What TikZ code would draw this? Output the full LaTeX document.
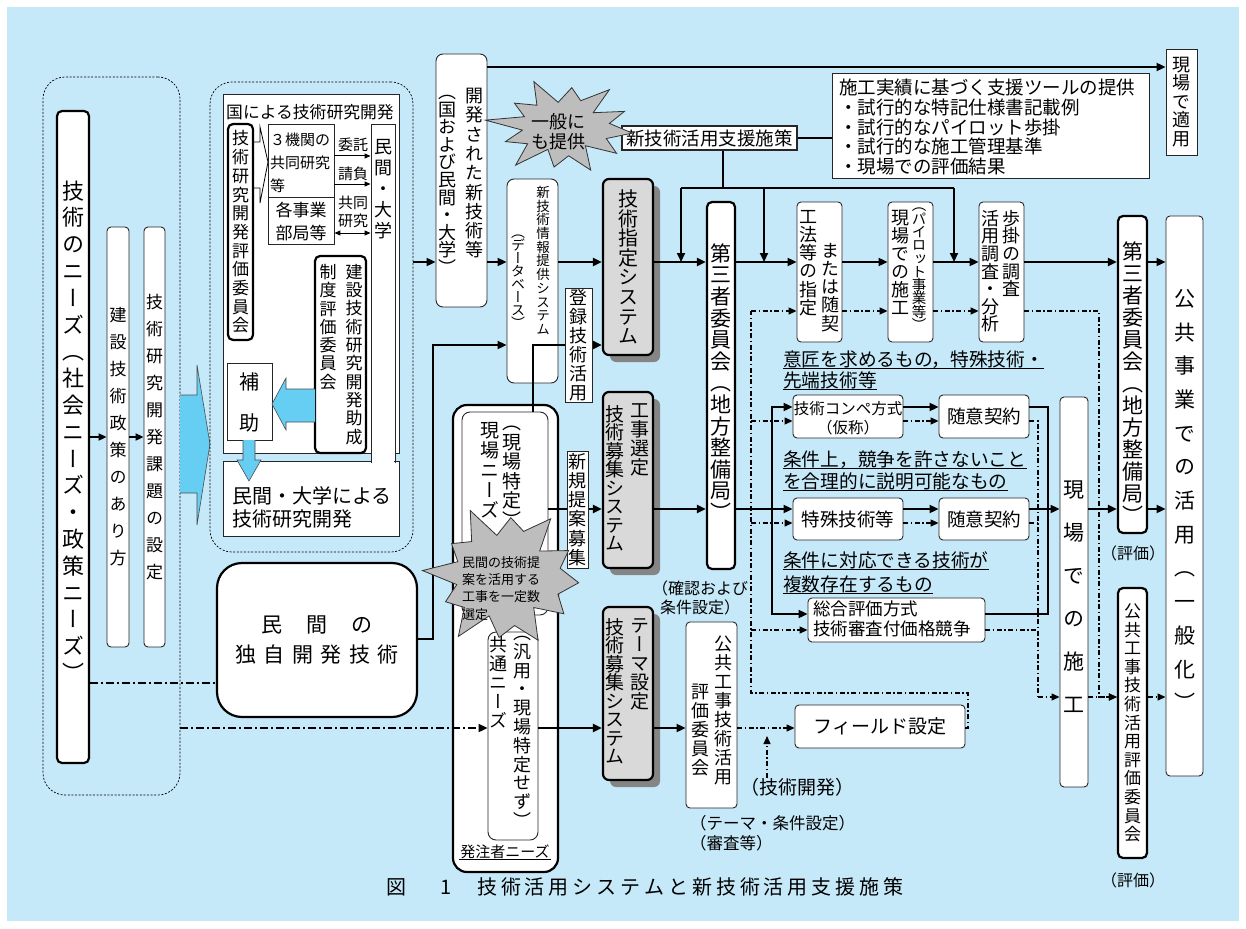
\documentclass[tikz,border=0pt]{standalone}
\usepackage{fontspec}
\setmainfont{Noto Sans CJK JP}
\newfontfamily\vjp[RawFeature={+vert}]{Noto Sans CJK JP}
\usetikzlibrary{arrows.meta,shadows}
\definecolor{bgc}{HTML}{C6E9F9}
\definecolor{cyc}{HTML}{66CDF3}
\definecolor{gboxc}{HTML}{D9D9D9}
\definecolor{shdc}{HTML}{858585}
\definecolor{burstc}{HTML}{BDBDBD}
\makeatletter
\newcommand\vt[2]{\vtop{\baselineskip=#1\lineskiplimit=-100pt\lineskip=0pt\@tfor\vt@c:=#2\do{\hbox to 1em{\hss\vt@c\hss}}}}
\newcommand\hc[2]{\@tfor\hc@c:=#2\do{\hbox to #1{\hss\hc@c\hss}}}
\makeatother
\newcommand\fs[1]{\fontsize{#1}{#1}\selectfont}
\newcommand\fsl[2]{\fontsize{#1}{#2}\selectfont}
\newcommand\bx[6][]{\node[#1, minimum width={#5-#3}, minimum height={#6-#4}] (#2) at ({(#3+#5)/2},{(#4+#6)/2}) {};}
\newcommand\burst[7]{\filldraw[fill=burstc, draw=black!80, line width=0.8pt] plot[samples at={0,...,#5}, variable=\k] ({#1+((1+#6)/2+(1-#6)/2*cos(180*\k))*(1+0.12*sin(\k*97))*#3*cos(\k*360/(#5+1)+#7)}, {#2+((1+#6)/2+(1-#6)/2*cos(180*\k))*(1+0.12*sin(\k*97))*#4*sin(\k*360/(#5+1)+#7)}) -- cycle;}
\begin{document}
\begin{tikzpicture}[x=1pt,y=-1pt,
 thinbox/.style={draw=black!85, line width=0.9pt, fill=white, rounded corners=4pt, inner sep=0pt},
 thickbox/.style={draw=black, line width=2.2pt, fill=white, rounded corners=5pt, inner sep=0pt},
 sqbox/.style={draw=black!85, line width=0.9pt, fill=white, inner sep=0pt},
 graybox/.style={draw=black, line width=2.2pt, fill=gboxc, rounded corners=6pt, inner sep=0pt, drop shadow={shadow xshift=7pt, shadow yshift=-7pt, fill=shdc, opacity=1}},
 dotbox/.style={draw=black, line width=0.7pt, dash pattern=on 2pt off 1.6pt, rounded corners=22pt, inner sep=0pt},
 vtxt/.style={inner sep=0pt, font=\vjp},
 txt/.style={inner sep=0pt},
 conn/.style={line width=2pt, -{Triangle[length=9pt,width=8pt]}},
 sconn/.style={line width=1pt, -{Triangle[length=6pt,width=5pt]}},
 lin/.style={line width=2pt},
 dd/.style={line width=1.3pt, dash pattern=on 5pt off 2.5pt on 1.5pt off 2.5pt},
 ddarr/.style={dd, -{Triangle[length=8pt,width=7pt]}},
 bigdd/.style={line width=2pt, dash pattern=on 8pt off 3pt on 2pt off 3pt},
]
\useasboundingbox (0,0) rectangle (1246,928);
\fill[white] (0,0) rectangle (1246,928);
\fill[bgc] (7,7) rectangle (1239,921);

% ---------- left group ----------
\bx[dotbox]{grp1}{43}{77}{180}{795}
\bx[thickbox]{needs}{57}{111}{89}{763}
\bx[thinbox]{policy}{107}{227}{129}{647}
\bx[thinbox]{task}{144}{227}{165}{647}
\node[vtxt] (tneeds) at ([yshift=6pt]needs.center) {\fs{22}\vt{26.8pt}{技術のニーズ（社会ニーズ・政策ニーズ）}};
\node[vtxt] (tpolicy) at (policy.center) {\fs{17}\vt{27pt}{建設技術政策のあり方}};
\node[vtxt] (ttask) at (task.center) {\fs{17}\vt{27pt}{技術研究開発課題の設定}};
\draw[line width=2pt, -{Triangle[length=8pt,width=7pt]}] (needs.east) -- (policy.west);
\draw[line width=2pt, -{Triangle[length=8pt,width=7pt]}] (policy.east) -- (task.west);
\filldraw[fill=cyc, draw=black!70, line width=0.6pt] (180,395) -- (197,395) -- (197,365) -- (210,444) -- (197,525) -- (197,493) -- (180,493);

% ---------- top-left group ----------
\bx[dotbox]{grp2}{210}{82}{413}{552}
\bx[sqbox]{gov}{223}{94}{399}{453}
\bx[sqbox]{privrd}{223}{461}{399}{536}
\bx[sqbox]{privcol}{371}{124}{395}{461}
\fill[white] (371.6,451) rectangle (394.4,463);
\draw[black!85, line width=0.9pt] (371,450) -- (371,463) (395,450) -- (395,463);
\node[txt, anchor=west, font=\fs{16.8}] (tgov) at (226,112) {国による技術研究開発};
\bx[thickbox]{evalc}{228}{124}{253}{340}
\node[vtxt] (tevalc) at (evalc.center) {\fs{17}\vt{18.7pt}{技術研究開発評価委員会}};
\draw[line width=0.8pt] (253,142) -- (260,142) -- (260,127) -- (268,162) -- (260,203) -- (260,188) -- (253,188);
\bx[sqbox]{joint}{268}{124}{334}{197}
\bx[sqbox]{depts}{268}{197}{334}{244}
\node[txt, anchor=north west, align=left, font=\fsl{15}{23}] (tjoint) at (270,133) {３機関の\\共同研究\\等};
\node[txt, align=center, font=\fsl{17}{23}] (tdepts) at (301,221) {各事業\\部局等};
\node[txt, font=\fs{15}] (titaku) at (353,145) {委託};
\node[txt, font=\fs{15}] (tukeoi) at (353,174) {請負};
\node[txt, align=center, font=\fsl{15}{18}] (tkyodo) at (353,212) {共同\\研究};
\draw[sconn] ([yshift=4.5pt]joint.east) -- ([yshift=4.5pt]joint.east -| privcol.west);
\draw[sconn] ([yshift=-23.5pt]joint.east) -- ([yshift=-23.5pt]joint.east -| privcol.west);
\draw[line width=1pt, {Triangle[length=6pt,width=5pt]}-{Triangle[length=6pt,width=5pt]}] ([yshift=-12.5pt]depts.east) -- ([yshift=-12.5pt]depts.east -| privcol.west);
\node[vtxt, anchor=north] (tprivcol) at (383,139) {\fs{18}\vt{21pt}{民間・大学}};
\bx[thickbox]{subc}{315}{256}{366}{453}
\node[vtxt, anchor=north] (tsubc1) at (354,264) {\fs{17}\vt{18.3pt}{建設技術研究開発助成}};
\node[vtxt, anchor=north] (tsubc2) at (328,264) {\fs{17}\vt{18.3pt}{制度評価委員会}};
\bx[sqbox]{hojo}{227}{363}{272}{440}
\node[txt, font=\fs{20}] (thojo1) at (249.5,382) {補};
\node[txt, font=\fs{20}] (thojo2) at (249.5,423) {助};
\filldraw[fill=cyc, draw=black!70, line width=0.6pt] (315,389) -- (286,389) -- (286,378) -- (272,404) -- (286,430) -- (286,422) -- (315,422);
\filldraw[fill=cyc, draw=black!70, line width=0.6pt] (243,440) -- (243,460) -- (237,460) -- (249,481) -- (261,460) -- (255,460) -- (255,440);
\node[txt, anchor=north west, align=left, font=\fsl{20}{23}] (tprivrd) at (232,486) {民間・大学による\\技術研究開発};

% ---------- centre column ----------
\bx[thinbox, rounded corners=7pt]{dev}{436}{54}{487}{307}
\node[vtxt, anchor=north] (tdev1) at (474,88) {\fs{18}\vt{19.3pt}{開発された新技術等}};
\node[vtxt, anchor=north] (tdev2) at (447,95) {\fs{18}\vt{17.6pt}{（国および民間・大学）}};
\bx[thinbox, rounded corners=7pt]{db}{507}{179}{558}{383}
\node[vtxt, anchor=north] (tdb1) at (543,186) {\fs{13.5}\vt{13.7pt}{新技術情報提供システム}};
\node[vtxt, anchor=north] (tdb2) at (518,235) {\fs{14}\vt{13pt}{（データベース）}};
\bx[graybox]{tspec}{603}{179}{653}{355}
\node[vtxt] (ttspec) at (tspec.center) {\fs{20}\vt{19.6pt}{技術指定システム}};
\bx[graybox]{coop}{603}{392}{653}{568}
\node[vtxt, anchor=north] (tcoop1) at (640,403) {\fs{19}\vt{19.2pt}{工事選定}};
\node[vtxt, anchor=north] (tcoop2) at (615,405) {\fs{19}\vt{18.5pt}{技術募集システム}};
\bx[graybox]{theme}{603}{607}{653}{780}
\node[vtxt, anchor=north] (ttheme1) at (640,618) {\fs{19}\vt{19.2pt}{テーマ設定}};
\node[vtxt, anchor=north] (ttheme2) at (615,618) {\fs{19}\vt{18.5pt}{技術募集システム}};

\bx[thickbox, rounded corners=14pt]{orderer}{453}{405}{558}{872}
\bx[thinbox, rounded corners=8pt]{genba}{462}{412}{548}{615}
\bx[thinbox, rounded corners=8pt]{kyotsu}{488}{632}{538}{840}
\node[vtxt, anchor=north] (tgenba1) at (490,422) {\fs{19}\vt{20pt}{現場ニーズ}};
\node[vtxt, anchor=north] (tgenba2) at (512,426) {\fs{19}\vt{19.5pt}{（現場特定）}};
\node[vtxt, anchor=north] (tkyo1) at (498,636) {\fs{18}\vt{19pt}{共通ニーズ}};
\node[vtxt, anchor=north] (tkyo2) at (522,636) {\fs{18}\vt{18.8pt}{（汎用・現場特定せず）}};
\node[inner sep=1pt, font=\fs{15}] (tord) at (505,852) {発注者ニーズ};
\draw[line width=0.7pt] ([yshift=-2pt]tord.base west) -- ([yshift=-2pt]tord.base east);

\bx[thickbox, rounded corners=25pt]{priv}{217}{563}{417}{717}
\node[txt, font=\fs{21}] (tpriv1) at (317,625) {\hc{45pt}{民間の}};
\node[txt, font=\fs{21}] (tpriv2) at (317,655) {\hc{28.5pt}{独自開発技術}};

\bx[thickbox]{third}{707}{202}{735}{569}
\node[vtxt] (tthird) at ([yshift=3.5pt]third.center) {\fs{21}\vt{21.6pt}{第三者委員会（地方整備局）}};
\node[txt, align=center, font=\fsl{16}{19}] (tkakunin) at (700,598) {（確認および\\条件設定）};

\bx[thinbox]{kokyo1}{686}{622}{737}{808}
\node[vtxt, anchor=north] (tk1a) at (723,636) {\fs{18}\vt{19pt}{公共工事技術活用}};
\node[vtxt, anchor=north] (tk1b) at (700,684) {\fs{18}\vt{19pt}{評価委員会}};
\node[txt, anchor=west, font=\fs{16.5}] (ttheme) at (690,823) {（テーマ・条件設定）};
\node[txt, anchor=west, font=\fs{16.5}] (tshinsa) at (690,843) {（審査等）};
\bx[thinbox]{field}{795}{705}{965}{748}
\node[txt, font=\fs{19}] (tfield) at (field.center) {フィールド設定};
\node[txt, font=\fs{19}] (tdevl) at (797,787) {（技術開発）};

% ---------- top right ----------
\bx[sqbox, line width=1.3pt]{shien}{622}{126}{797}{150}
\node[txt, font=\fs{18.5}] (tshien) at (shien.center) {新技術活用支援施策};
\bx[sqbox]{support}{832}{73}{1149}{178}
\node[txt, anchor=north west, align=left, font=\fsl{18.5}{19.7}] (tsup) at (839,79) {施工実績に基づく支援ツールの提供\\・試行的な特記仕様書記載例\\・試行的なパイロット歩掛\\・試行的な施工管理基準\\・現場での評価結果};
\bx[sqbox]{tekiyo}{1166}{49}{1197}{155}
\node[vtxt] (ttekiyo) at (tekiyo.center) {\fs{18}\vt{18.5pt}{現場で適用}};

\bx[thinbox]{kouhou}{797}{202}{842}{342}
\node[vtxt, anchor=north] (tkou1) at (808,210) {\fs{18}\vt{18.2pt}{工法等の指定}};
\node[vtxt, anchor=north] (tkou2) at (830,243) {\fs{18}\vt{18.2pt}{または随契}};
\bx[thinbox]{pilot}{888}{202}{933}{342}
\node[vtxt, anchor=north] (tpil1) at (900,210) {\fs{18}\vt{18pt}{現場での施工}};
\node[vtxt, anchor=north] (tpil2) at (919,208) {\fs{14.5}\vt{13.3pt}{（パイロット事業等）}};
\bx[thinbox]{bukake}{979}{202}{1024}{342}
\node[vtxt, anchor=north] (tbu1) at (1011,210) {\fs{18}\vt{17.6pt}{歩掛の調査}};
\node[vtxt, anchor=north] (tbu2) at (990,210) {\fs{18}\vt{17.6pt}{活用調査・分析}};

% ---------- right middle ----------
\node[txt, anchor=base west, font=\fs{18.7}] (u1) at (783,366) {意匠を求めるもの，特殊技術・};
\node[txt, anchor=base west, font=\fs{18.7}] (u2) at (783,387) {先端技術等};
\node[txt, anchor=base west, font=\fs{18.7}] (u3) at (783,466) {条件上，競争を許さないこと};
\node[txt, anchor=base west, font=\fs{18.7}] (u4) at (783,488) {を合理的に説明可能なもの};
\node[txt, anchor=base west, font=\fs{18.7}] (u5) at (783,567) {条件に対応できる技術が};
\node[txt, anchor=base west, font=\fs{18.7}] (u6) at (783,591) {複数存在するもの};
\foreach \u in {u1,u2,u3,u4,u5,u6}{\draw[line width=0.8pt] ([yshift=-2.5pt]\u.base west) -- ([yshift=-2.5pt]\u.base east);}

\bx[thinbox]{compe}{793}{395}{903}{438}
\node[txt, align=center, font=\fsl{15.5}{19}] (tcompe) at (848,418) {技術コンペ方式\\（仮称）};
\bx[thinbox]{zuii1}{939}{395}{1029}{438}
\node[txt, font=\fs{18.5}] (tzuii1) at (zuii1.center) {随意契約};
\bx[thinbox]{tokushu}{793}{498}{903}{540}
\node[txt, font=\fs{18.5}] (ttoku) at (tokushu.center) {特殊技術等};
\bx[thinbox]{zuii2}{939}{498}{1029}{540}
\node[txt, font=\fs{18.5}] (tzuii2) at (zuii2.center) {随意契約};
\bx[thinbox]{sogo}{808}{598}{985}{642}
\node[txt, anchor=north west, align=left, font=\fsl{17.5}{20}] (tsogo) at (813,601) {総合評価方式\\技術審査付価格競争};

% ---------- right ----------
\bx[thinbox]{genbasekou}{1060}{397}{1088}{787}
\node[vtxt] (tgs) at ([yshift=-5pt]genbasekou.center) {\fs{21}\vt{43pt}{現場での施工}};
\bx[thickbox]{third2}{1118}{216}{1147}{533}
\node[vtxt] (tthird2) at ([yshift=-8pt]third2.center) {\fs{21}\vt{22pt}{第三者委員会（地方整備局）}};
\node[txt, font=\fs{16}] (thyoka1) at (1133,553) {（評価）};
\bx[thickbox]{kokyo2}{1118}{588}{1147}{858}
\node[vtxt] (tkokyo2) at (kokyo2.center) {\fs{17}\vt{18.6pt}{公共工事技術活用評価委員会}};
\node[txt, font=\fs{16}] (thyoka2) at (1133,880) {（評価）};
\bx[thinbox]{puse}{1166}{216}{1203}{776}
\node[vtxt] (tpuse) at ([yshift=-4pt]puse.center) {\fs{21}\vt{33.7pt}{公共事業での活用（一般化）}};

% ---------- level coordinates ----------
\coordinate (yTop) at (0,67);
\coordinate (yBar) at (0,188);
\coordinate (yMain) at (0,262);
\coordinate (yDash) at (0,311);
\coordinate (yReg) at (0,345);
\coordinate (yCS) at (0,407);
\coordinate (yCD) at (0,421);
\coordinate (yMid) at (0,509);
\coordinate (yTD) at (0,523);
\coordinate (ySS) at (0,614);
\coordinate (ySD) at (0,630);
\coordinate (yPriv) at (0,639);
\coordinate (yND) at (0,683);
\coordinate (yLoop) at (0,693);
\coordinate (yD2) at (0,697);
\coordinate (yKyo) at (0,728);
\coordinate (yUp) at (0,736);
\coordinate (xA) at (433,0);
\coordinate (xB) at (533,0);
\coordinate (xC) at (681,0);
\coordinate (xSup) at (723,0);
\coordinate (xD) at (764,0);
\coordinate (xE) at (954,0);
\coordinate (xS) at (772,0);
\coordinate (xDD) at (751,0);
\coordinate (xR) at (1048,0);
\coordinate (xRD) at (1038,0);
\coordinate (xFR) at (1099,0);
\coordinate (xL) at (968,0);
\coordinate (xT) at (767,0);

% ---------- solid connectors ----------
\draw[conn] (grp2.east |- yMain) -- (dev.west |- yMain);
\draw[conn] (dev.east |- yMain) -- (db.west |- yMain);
\draw[conn] (db.east |- yMain) -- (tspec.west |- yMain);
\draw[conn] (tspec.east |- yMain) -- (third.west |- yMain);
\draw[conn] (third.east |- yMain) -- (kouhou.west |- yMain);
\draw[conn] (kouhou.east |- yMain) -- (pilot.west |- yMain);
\draw[conn] (pilot.east |- yMain) -- (bukake.west |- yMain);
\draw[conn] (bukake.east |- yMain) -- (third2.west |- yMain);
\draw[conn] (third2.east |- yMain) -- (puse.west |- yMain);
\draw[conn] (dev.east |- yTop) -- (tekiyo.west |- yTop);
\draw[lin] (shien.east) -- (support.west |- shien.east);
\draw[lin] (xSup |- shien.south) -- (xSup |- yBar);
\draw[lin] (xC |- yBar) -- (xE |- yBar);
\draw[conn] (xC |- yBar) -- (xC |- yMain);
\draw[conn] (xD |- yBar) -- (xD |- yMain);
\draw[conn] (xE |- yBar) -- (xE |- yMain);
\draw[conn] (priv.east |- yPriv) -| (xA |- yReg) -- (db.west |- yReg);
\draw[conn] (genba.north -| xB) -- (xB |- yReg) -- (tspec.west |- yReg);
\draw[conn] (genba.east |- yMid) -- (coop.west |- yMid);
\draw[conn] (kyotsu.east |- yKyo) -- (theme.west |- yKyo);
\draw[conn] (theme.east |- yKyo) -- (kokyo1.west |- yKyo);
\draw[conn] (coop.east |- yMid) -- (third.west |- yMid);
\draw[conn] (third.east |- yMid) -- (tokushu.west |- yMid);
\draw[conn] (xS |- yMid) |- (compe.west |- yCS);
\draw[conn] (xS |- yMid) |- (sogo.west |- ySS);
\draw[conn] (compe.east |- yCS) -- (zuii1.west |- yCS);
\draw[conn] (tokushu.east |- yMid) -- (zuii2.west |- yMid);
\draw[lin] (zuii1.east |- yCS) -| (xR |- ySS) -- (sogo.east |- ySS);
\draw[conn] (zuii2.east |- yMid) -- (genbasekou.west |- yMid);
\draw[conn] (genbasekou.east |- yMid) -- (third2.west |- yMid);
\draw[conn] (third2.east |- yMid) -- (puse.west |- yMid);

% ---------- dash-dot connectors ----------
\draw[ddarr] (xDD |- yDash) -- (kouhou.west |- yDash);
\draw[ddarr] (kouhou.east |- yDash) -- (pilot.west |- yDash);
\draw[ddarr] (pilot.east |- yDash) -- (bukake.west |- yDash);
\draw[ddarr] (bukake.east |- yDash) -| (xFR |- yD2) -- (kokyo2.west |- yD2);
\draw[ddarr] (genbasekou.east |- yD2) -- (kokyo2.west |- yD2);
\draw[ddarr] (kokyo2.east |- yD2) -- (puse.west |- yD2);
\draw[dd] (field.east |- yKyo) -| (xL |- yLoop) -| (xDD |- yDash);
\draw[ddarr] (xDD |- yCD) -- (compe.west |- yCD);
\draw[ddarr] (xDD |- yTD) -- (tokushu.west |- yTD);
\draw[ddarr] (xDD |- ySD) -- (sogo.west |- ySD);
\draw[ddarr] (compe.east |- yCD) -- (zuii1.west |- yCD);
\draw[ddarr] (tokushu.east |- yTD) -- (zuii2.west |- yTD);
\draw[dd] (zuii1.east |- yCD) -| (xRD |- yD2);
\draw[dd] (zuii2.east |- yTD) -- (xRD |- yTD);
\draw[dd] (sogo.east |- ySD) -- (xRD |- ySD);
\draw[ddarr] (xRD |- yD2) -- (genbasekou.west |- yD2);
\draw[ddarr] (kokyo1.east |- yKyo) -- (field.west |- yKyo);
\draw[ddarr] (tdevl.north -| xT) -- (xT |- yUp);
\draw[bigdd] (needs.east |- yND) -- (priv.west |- yND);
\draw[bigdd, -{Triangle[length=9pt,width=8pt]}] (grp1.east |- yKyo) -- (kyotsu.west |- yKyo);

% ---------- labels on lines ----------
\bx[sqbox]{reg}{565}{288}{592}{402}
\node[vtxt] (treg) at (reg.center) {\fs{18}\vt{19pt}{登録技術活用}};
\bx[sqbox]{shinki}{567}{451}{588}{568}
\node[vtxt] (tshinki) at (shinki.center) {\fs{18}\vt{19.3pt}{新規提案募集}};

% ---------- starbursts ----------
\burst{563}{127}{70}{44}{23}{0.6}{8}
\node[txt, align=center, font=\fsl{18}{20}] (tburst1) at (558,132) {一般に\\も提供};
\burst{505}{577}{74}{66}{23}{0.68}{5}
\node[txt, anchor=north west, align=left, font=\fsl{13}{17.3}] (tburst2) at (462,556) {民間の技術提\\案を活用する\\工事を一定数\\選定};

% ---------- caption ----------
\node[txt, font=\fs{20}] (cap1) at (396,887) {図};
\node[txt, font=\fs{20}] (cap2) at (446,887) {1};
\node[txt, anchor=west, font=\fs{20}] (cap3) at (475,887) {\hc{23.9pt}{技術活用システムと新技術活用支援施策}};
\end{tikzpicture}
\end{document}
